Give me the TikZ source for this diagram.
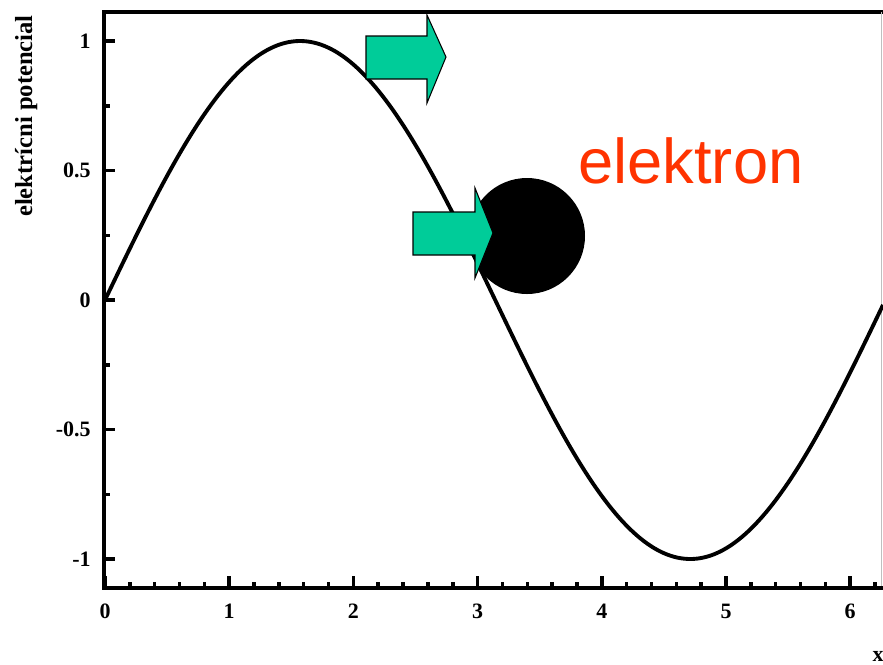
\documentclass[tikz,border=0pt]{standalone}
\usepackage{fontspec}
\setmainfont{Liberation Serif}
\newfontfamily\elfont{Liberation Sans}
\definecolor{argreen}{HTML}{00CC99}
\definecolor{elred}{HTML}{FF3300}
\begin{document}
\begin{tikzpicture}[x=0.02cm,y=-0.02cm,
  tck/.style={font=\bfseries\fontsize{12.5}{14}\selectfont,inner sep=0pt},
  ax/.style={line width=2.8pt,line cap=rect},
  crv/.style={line width=2.2pt},
  blk/.style={draw=black,fill=argreen,line width=0.6pt,line join=miter}]
\useasboundingbox (0,0) rectangle (883,664);
% frame and axes
\draw[line width=2.2pt] (104,12) -- (883,12);
\draw[gray!50,line width=0.5pt] (881,12) -- (881,588);
\draw[ax] (104,12) -- (104,588) -- (883,588);
% y ticks
\foreach \v in {0.75,0.25,-0.25,-0.75}
  \draw[line width=2pt] (104,{300-259*(\v)}) -- ++(6,0);
\foreach \v/\t in {1/1,0.5/0.5,0/0,-0.5/-0.5,-1/-1} {
  \draw[line width=2pt] (104,{300-259*(\v)}) -- ++(11,0);
  \node[tck,anchor=east] at (91,{300-259*(\v)}) {\t};
}
% x ticks
\foreach \i in {1,...,31}
  \draw[line width=2pt] ({105+124.2*0.2*\i},588) -- ++(0,-6);
\foreach \i in {0,...,6} {
  \draw[line width=2pt] ({105+124.2*\i},588) -- ++(0,-12);
  \node[tck] at ({105+124.2*\i},611) {\i};
}
\node[tck,anchor=east] (xlab) at (884,656) {x};
\node[rotate=90,anchor=base,inner sep=0pt,font=\bfseries\fontsize{14}{16}\selectfont] (ylab) at (32,116) {elektrícni potencial};
% potential
\draw[crv] plot[domain=0:6.265,samples=160,smooth] ({105+124.2*\x},{300-259*sin(\x r)});
% electron
\fill (527,236) circle[radius=58];
\node[anchor=base west,inner sep=0pt,text=elred,font=\elfont\fontsize{36}{40}\selectfont] (el) at (578,183) {elektron};
% arrows
\draw[blk] (366,36) -- (427,36) -- (427,15) -- (446,57) -- (427,103) -- (427,79) -- (366,79) -- cycle;
\draw[blk] (413,212) -- (475,212) -- (475,188) -- (493,233) -- (475,278) -- (475,255) -- (413,255) -- cycle;
\end{tikzpicture}
\end{document}
